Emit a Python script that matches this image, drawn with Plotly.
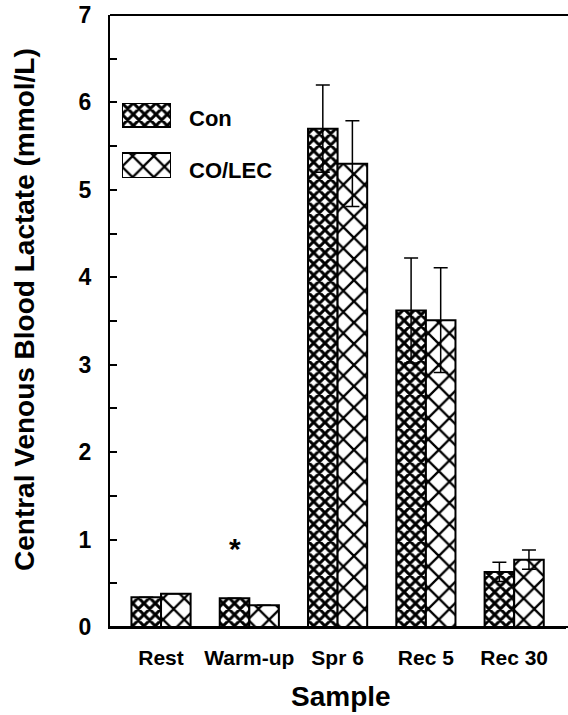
import plotly.graph_objects as go

# Central venous blood lactate by sampling point (mean +/- SD)
categories = ["Rest", "Warm-up", "Spr 6", "Rec 5", "Rec 30"]
con = [0.34, 0.33, 5.70, 3.62, 0.63]
con_err = [0.0, 0.0, 0.50, 0.60, 0.11]
colec = [0.38, 0.25, 5.30, 3.51, 0.77]
colec_err = [0.0, 0.0, 0.49, 0.60, 0.11]
series_names = ["Con", "CO/LEC"]
y_ticks = [0, 1, 2, 3, 4, 5, 6, 7]

FONT = "Liberation Sans, Arial, sans-serif"

con_pattern = dict(shape="x", size=8, solidity=0.6, fgcolor="black", fgopacity=1,
                   bgcolor="white", fillmode="overlay")
colec_pattern = dict(shape="x", size=15, solidity=0.28, fgcolor="black", fgopacity=1,
                     bgcolor="white", fillmode="overlay")

err_style = dict(type="data", color="black", thickness=1.5, width=7, visible=True)

fig = go.Figure()
fig.add_trace(go.Bar(
    x=categories, y=con, name=series_names[0],
    marker=dict(color="white", line=dict(color="black", width=2), pattern=con_pattern),
    error_y=dict(array=con_err, **err_style), showlegend=False,
))
fig.add_trace(go.Bar(
    x=categories, y=colec, name=series_names[1],
    marker=dict(color="white", line=dict(color="black", width=2), pattern=colec_pattern),
    error_y=dict(array=colec_err, **err_style), showlegend=False,
))

# Legend swatches: patterned boxes on a small overlay axis
fig.add_trace(go.Bar(
    x=[1], y=[63], base=[0], width=[24], orientation="h",
    marker=dict(color="white", line=dict(color="black", width=2), pattern=con_pattern),
    xaxis="x2", yaxis="y2", showlegend=False, hoverinfo="skip",
))
fig.add_trace(go.Bar(
    x=[1], y=[12.5], base=[0], width=[25], orientation="h",
    marker=dict(color="white", line=dict(color="black", width=2), pattern=colec_pattern),
    xaxis="x2", yaxis="y2", showlegend=False, hoverinfo="skip",
))

PLOT_W = 568 - 110 - 2

def px_x(p):
    return (p - 110) / PLOT_W

def px_y(p):
    return (627 - p) / 612

fig.update_layout(
    width=568, height=715,
    margin=dict(l=110, r=2, t=15, b=88),
    paper_bgcolor="white", plot_bgcolor="white",
    barmode="group", bargap=0.33, bargroupgap=0,
    font=dict(family=FONT, color="black", weight="bold"),
    xaxis=dict(
        type="category", range=[-0.578, 4.587],
        showline=True, linecolor="black", linewidth=2, mirror=False,
        ticks="", showgrid=False, zeroline=False,
        tickfont=dict(size=21, family=FONT, weight="bold"),
        ticklabelstandoff=11,
    ),
    yaxis=dict(
        range=[0, 7], tickvals=y_ticks,
        showline=True, linecolor="black", linewidth=2, mirror=False,
        ticks="inside", ticklen=7, tickwidth=1.5, tickcolor="black",
        minor=dict(dtick=0.5, ticks="inside", ticklen=7, tickwidth=1.5, tickcolor="black"),
        showgrid=False, zeroline=False,
        tickfont=dict(size=23, family=FONT, weight="bold"),
        ticklabelstandoff=12,
    ),
    xaxis2=dict(domain=[px_x(122), px_x(171)], range=[0, 1], anchor="y2",
                visible=False, fixedrange=True),
    yaxis2=dict(domain=[px_y(178), px_y(103)], range=[0, 75], anchor="x2",
                visible=False, fixedrange=True),
    shapes=[
        # top frame line running out to the right edge
        dict(type="line", xref="paper", yref="paper", x0=0, x1=px_x(568), y0=1, y1=1,
             line=dict(color="black", width=2)),
        # bottom axis line continued to the right edge
        dict(type="line", xref="paper", yref="paper", x0=0, x1=px_x(568), y0=0, y1=0,
             line=dict(color="black", width=2)),
    ],
    annotations=[
        dict(text="Central Venous Blood Lactate (mmol/L)", textangle=-90,
             xref="paper", yref="paper", x=px_x(25), y=px_y(310),
             xanchor="center", yanchor="middle", showarrow=False,
             font=dict(size=28, family=FONT, weight="bold")),
        dict(text="Sample", xref="paper", yref="paper",
             x=px_x(341), y=px_y(696),
             xanchor="center", yanchor="middle", showarrow=False,
             font=dict(size=28, family=FONT, weight="bold")),
        dict(text="Con", xref="paper", yref="paper",
             x=px_x(187), y=px_y(119),
             xanchor="left", yanchor="middle", showarrow=False,
             font=dict(size=22, family=FONT, weight="bold")),
        dict(text="CO/LEC", xref="paper", yref="paper",
             x=px_x(187), y=px_y(170),
             xanchor="left", yanchor="middle", showarrow=False,
             font=dict(size=22, family=FONT, weight="bold")),
        dict(text="*", x="Warm-up", y=0.9, xref="x", yref="y", xshift=-14,
             xanchor="center", yanchor="middle", showarrow=False,
             font=dict(size=30, family=FONT, weight="bold")),
    ],
)

fig.write_html("out.html")
